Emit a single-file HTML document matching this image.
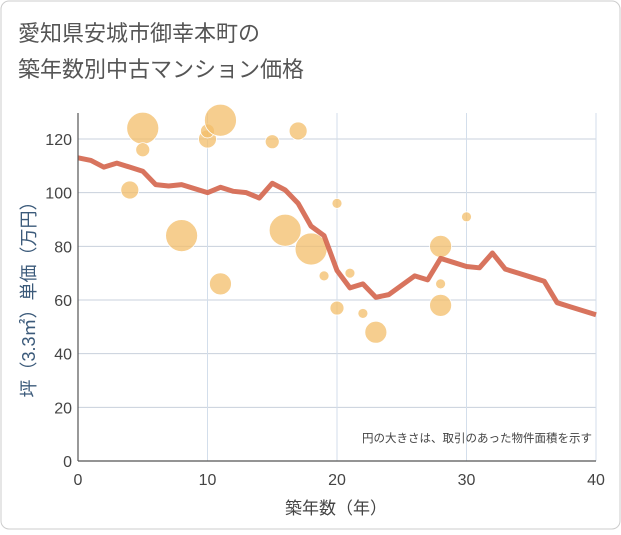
<!DOCTYPE html>
<html><head><meta charset="utf-8"><style>
body{margin:0;background:#fff;font-family:"Liberation Sans","Noto Sans CJK JP",sans-serif}
#c{position:relative;width:621px;height:530px}
</style></head><body>
<div id="c">
<svg width="621" height="530" xmlns="http://www.w3.org/2000/svg">
<rect x="1" y="1" width="619" height="528" rx="8" fill="#fff" stroke="#ccc"/>
<text x="18" y="41" font-size="22" fill="#555">愛知県安城市御幸本町の</text>
<text x="18" y="77" font-size="22" fill="#555">築年数別中古マンション価格</text>
<g id="grid"></g>
<g id="bubbles"></g>
<g id="line"></g>
<g id="axes"></g>
<text x="336" y="514" font-size="17" fill="#444" text-anchor="middle">築年数（年）</text>
<text transform="translate(35,295) rotate(-90)" font-size="18" fill="#3b5a7a" text-anchor="middle">坪（3.3㎡）単価（万円）</text>
<text x="592" y="442" font-size="11.5" fill="#444" text-anchor="end">円の大きさは、取引のあった物件面積を示す</text>
</svg>
</div>
<script>
const lineYears=[0,1,2,3,4,5,6,7,8,9,10,11,12,13,14,15,16,17,18,19,20,21,22,23,24,25,26,27,28,29,30,31,32,33,34,35,36,37,38,39,40];
const linePrices=[113,112,109.5,111,109.5,108,103,102.5,103,101.5,100,102,100.5,100,98,103.5,101,96,87.5,84,71,64.5,66,61,62,65.5,69,67.5,75.5,74,72.5,72,77.5,71.5,70,68.5,67,59,57.5,56,54.5];
const bubbleYears=[5,5,4,8,10,10,11,11,15,17,16,18,20,19,21,20,22,23,28,28,28,30];
const bubblePrices=[124,116,101,84,120,123,127,66,119,123,86,79,96,69,70,57,55,48,80,66,58,91];
const bubbleSizes=[16,7,9,16,9,7,16,11,7,9,16,16,5,5,5,7,5,11,11,5,11,5];
const xTicks=[0,10,20,30,40];
const yTicks=[0,20,40,60,80,100,120];
const L=78,R=596,T=113,B=461;
const xs=v=>L+(v/40)*(R-L);
const ys=v=>B-v*(B-139)/120;
const NS="http://www.w3.org/2000/svg";
function mk(t,a,p){const e=document.createElementNS(NS,t);for(const k in a)e.setAttribute(k,a[k]);p.appendChild(e);return e;}
const g=document.getElementById('grid'),ax=document.getElementById('axes');
yTicks.forEach(v=>{const l=mk('line',{x1:L,x2:R,y1:ys(v),y2:ys(v),stroke:'#c8d0dc','stroke-width':1},g);


const t=mk('text',{x:L-6,y:ys(v)+6,'font-size':16,fill:'#444','text-anchor':'end'},ax);t.textContent=v;

});
xTicks.forEach(v=>{const l=mk('line',{x1:xs(v),x2:xs(v),y1:T,y2:B,stroke:'#d3deeb','stroke-width':1},g);


const t=mk('text',{x:xs(v),y:B+24,'font-size':16,fill:'#444','text-anchor':'middle'},ax);t.textContent=v;

});
const yl=mk('line',{x1:L,x2:L,y1:T,y2:B,stroke:'#555','stroke-width':1.2},ax);


const xl=mk('line',{x1:L,x2:R,y1:B,y2:B,stroke:'#555','stroke-width':1.2},ax);


const bg=document.getElementById('bubbles');
bubbleYears.forEach((x,i)=>{const c=mk('circle',{cx:xs(x),cy:ys(bubblePrices[i]),r:bubbleSizes[i],fill:'#f3bd6a','fill-opacity':0.75,stroke:'#fff','stroke-width':0.8},bg);

});
const p=mk('polyline',{points:lineYears.map((x,i)=>xs(x)+','+ys(linePrices[i])).join(' '),fill:'none',stroke:'#d4654c','stroke-width':5,'stroke-linejoin':'round','stroke-opacity':0.9},document.getElementById('line'));


</script>
</body></html>
